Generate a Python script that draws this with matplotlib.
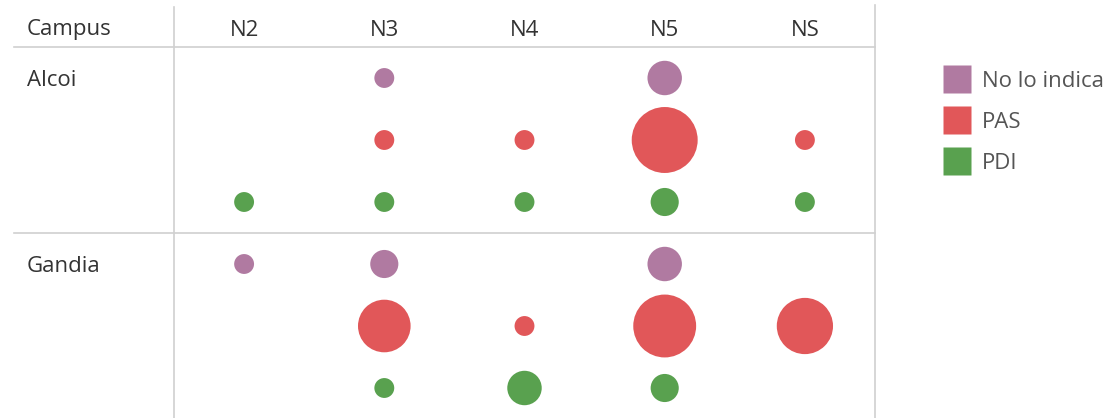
import matplotlib
matplotlib.use("Agg")
import matplotlib.pyplot as plt
from matplotlib.lines import Line2D
import numpy as np

plt.rcParams['font.family'] = ['Open Sans', 'DejaVu Sans']

niveles = ['N2', 'N3', 'N4', 'N5', 'NS']
campus = ['Alcoi', 'Gandia']
colectivos = ['No lo indica', 'PAS', 'PDI']
colores = {'No lo indica': '#B07AA1', 'PAS': '#E15759', 'PDI': '#59A14F'}

# recuento por campus / colectivo / nivel (0 = sin burbuja)
alcoi_no = [0, 1, 0, 3, 0]
alcoi_pas = [0, 1, 1, 11, 1]
alcoi_pdi = [1, 1, 1, 2, 1]
gandia_no = [1, 2, 0, 3, 0]
gandia_pas = [0, 7, 1, 10, 8]
gandia_pdi = [0, 1, 3, 2, 0]

filas = [alcoi_no, alcoi_pas, alcoi_pdi, gandia_no, gandia_pas, gandia_pdi]
colectivo_fila = colectivos * 2

W, H = 1117, 418
fig = plt.figure(figsize=(W / 100, H / 100), dpi=100)

# capa de fondo en pixeles para lineas y textos de la tabla
bg = fig.add_axes([0, 0, 1, 1])
bg.set_xlim(0, W)
bg.set_ylim(H, 0)
bg.axis('off')

x0, x1 = 174, 875
top, sep = 47, 233
gris = '#d0d0d0'
bg.plot([14, x1], [top, top], color=gris, lw=1.2)
bg.plot([14, x1], [sep, sep], color=gris, lw=1.2)
bg.plot([x0, x0], [7, H], color=gris, lw=1.2)
bg.plot([x1, x1], [5, H], color=gris, lw=1.2)

txt = '#333333'
fs = 16
bg.text(27, 30, 'Campus', fontsize=fs, color=txt, va='center', ha='left')
colw = (x1 - x0) / len(niveles)
for i, n in enumerate(niveles):
    bg.text(x0 + colw * (i + 0.5), 30, n, fontsize=fs, color=txt, va='center', ha='center')
for j, c in enumerate(campus):
    bg.text(27, 80 + j * (sep - top), c, fontsize=fs, color=txt, va='center', ha='left')

# burbujas
ax = fig.add_axes([x0 / W, -1 / H, (x1 - x0) / W, (H + 1 - top) / H])
ax.patch.set_alpha(0)
ax.set_xlim(-0.5, len(niveles) - 0.5)
ax.set_ylim(len(filas) - 0.5, -0.5)
ax.axis('off')

escala = 205
for r, vals in enumerate(filas):
    v = np.array(vals, dtype=float)
    xs = np.arange(len(niveles))[v > 0]
    ax.scatter(xs, np.full(len(xs), r), s=v[v > 0] * escala,
               color=colores[colectivo_fila[r]], edgecolors='none', zorder=3)

handles = [Line2D([], [], marker='s', linestyle='none', markersize=20,
                  markerfacecolor=colores[c], markeredgecolor='none') for c in colectivos]
leg = fig.legend(handles, colectivos, loc='upper left', bbox_to_anchor=(940 / W, 1 - 71 / H),
                 frameon=False, fontsize=16, handlelength=1.5, handletextpad=0.38,
                 labelspacing=0.9, borderaxespad=0, borderpad=0)
for t in leg.get_texts():
    t.set_color('#555555')

fig.savefig('out.png', dpi=100)
